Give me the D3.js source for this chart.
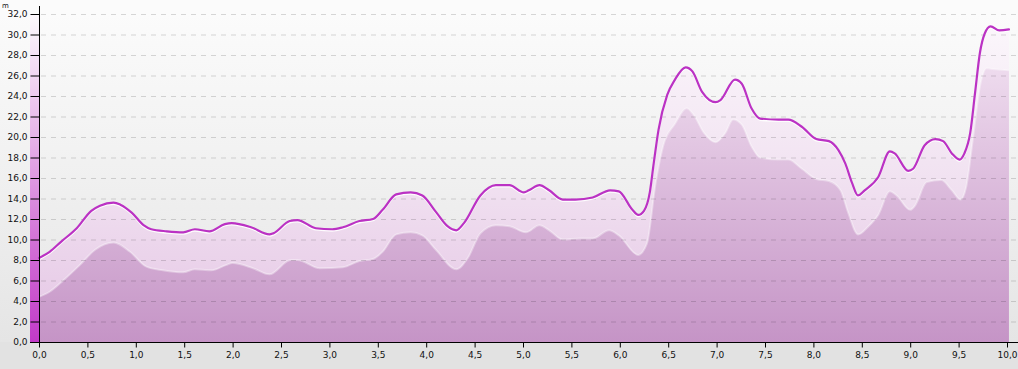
<!DOCTYPE html>
<html>
<head>
<meta charset="utf-8">
<script src="https://cdn.jsdelivr.net/npm/d3@7"></script>
<style>
    html, body { margin: 0; padding: 0; background: #e2e2e2; }
    svg { display: block; }
</style>
</head>
<body>
<svg id="chart"></svg>
<script>
// Elevation profile (distance in km, height in m)
const lineDist = [0.0, 0.11, 0.23, 0.39, 0.54, 0.63, 0.77, 0.84, 0.96, 1.08, 1.16, 1.32, 1.49, 1.61, 1.76, 1.92, 1.99,
    2.19, 2.38, 2.42, 2.59, 2.67, 2.86, 3.03, 3.14, 3.31, 3.45, 3.55, 3.69, 3.84, 3.96, 4.10, 4.22, 4.31, 4.39,
    4.56, 4.72, 4.86, 5.01, 5.06, 5.17, 5.27, 5.41, 5.54, 5.72, 5.90, 5.99, 6.13, 6.19, 6.25, 6.31, 6.35, 6.40,
    6.49, 6.57, 6.68, 6.75, 6.85, 6.99, 7.04, 7.19, 7.26, 7.36, 7.45, 7.64, 7.74, 7.88, 8.03, 8.16, 8.26, 8.33,
    8.40, 8.46, 8.53, 8.67, 8.79, 8.84, 8.98, 9.03, 9.15, 9.26, 9.34, 9.43, 9.51, 9.56, 9.62, 9.67, 9.72, 9.77,
    9.83, 9.92, 10.02];
const lineVal = [8.2, 8.8, 9.8, 11.1, 12.8, 13.3, 13.6, 13.4, 12.6, 11.4, 11.0, 10.8, 10.7, 11.0, 10.8, 11.5, 11.6,
    11.2, 10.5, 10.6, 11.8, 11.9, 11.1, 11.0, 11.2, 11.8, 12.0, 12.9, 14.4, 14.6, 14.3, 12.7, 11.3, 10.9, 11.6,
    14.3, 15.3, 15.3, 14.6, 14.8, 15.3, 14.8, 13.9, 13.9, 14.1, 14.8, 14.7, 12.9, 12.4, 12.8, 14.6, 17.4, 20.7,
    24.1, 25.6, 26.8, 26.4, 24.4, 23.4, 23.6, 25.6, 25.2, 22.8, 21.8, 21.7, 21.7, 21.0, 19.8, 19.6, 18.7, 17.4,
    15.5, 14.3, 14.8, 16.1, 18.6, 18.4, 16.7, 16.9, 19.2, 19.8, 19.6, 18.4, 17.8, 18.4, 20.4, 24.3, 28.2, 30.1,
    30.8, 30.4, 30.5];

// Second (lower) profile drawn as the darker area
const lowerDist = [0.0, 0.11, 0.25, 0.42, 0.58, 0.77, 0.94, 1.11, 1.28, 1.49, 1.61, 1.78, 1.93, 2.0, 2.21, 2.38,
    2.6, 2.67, 2.9, 3.14, 3.31, 3.45, 3.55, 3.69, 3.84, 3.96, 4.10, 4.31, 4.43, 4.56, 4.72, 4.86, 5.03, 5.17,
    5.27, 5.41, 5.58, 5.72, 5.89, 5.99, 6.19, 6.28, 6.37, 6.45, 6.57, 6.69, 6.76, 6.87, 6.99, 7.09, 7.17, 7.26,
    7.36, 7.45, 7.64, 7.74, 7.88, 8.03, 8.16, 8.28, 8.36, 8.46, 8.57, 8.67, 8.79, 8.86, 9.0, 9.05, 9.17, 9.32,
    9.43, 9.52, 9.58, 9.65, 9.72, 9.79, 9.88, 10.02];
const lowerVal = [4.4, 4.9, 6.0, 7.5, 9.0, 9.7, 8.8, 7.35, 7.0, 6.8, 7.1, 7.0, 7.5, 7.7, 7.2, 6.6,
    8.0, 8.0, 7.2, 7.3, 7.9, 8.1, 8.8, 10.5, 10.7, 10.4, 9.0, 7.1, 8.2, 10.6, 11.4, 11.3, 10.7, 11.4,
    10.9, 10.0, 10.1, 10.1, 10.9, 10.4, 8.5, 9.6, 15.5, 19.2, 21.3, 22.8, 22.2, 20.4, 19.5, 20.4, 21.7, 21.2,
    19.1, 18.0, 17.8, 17.8, 16.9, 15.9, 15.7, 14.8, 12.6, 10.5, 11.3, 12.4, 14.7, 14.3, 12.9, 13.3, 15.6, 15.8,
    14.8, 13.9, 15.2, 20.0, 24.9, 26.7, 26.6, 26.5];

const xTicks = d3.range(0, 10.001, 0.5);
const yTicks = d3.range(0, 32.001, 2);
const yUnit = "m";

const width = 1018;
const height = 369;
const margins = { top: 14, right: 11, bottom: 27, left: 39 };
const cfg = {
    textColor: "#111",
    fontSize: "9px",
    fontFamily: "'DejaVu Sans', Verdana, sans-serif",
    lineColor: "#bb32c4",
    lineWidth: 2.2,
    gridColor: "rgba(0,0,0,0.15)",
};

const xScale = d3.scaleLinear([0, 10], [margins.left, width - margins.right]);
const yScale = d3.scaleLinear([0, 32], [height - margins.bottom, margins.top]);
const fmt = d => d.toFixed(1).replace(".", ",");

const upper = lineDist.map((d, i) => ({ x: d, y: lineVal[i] }));
const lower = lowerDist.map((d, i) => ({ x: d, y: lowerVal[i] }));

const svg = d3.select("#chart")
    .attr("width", width)
    .attr("height", height)
    .attr("viewBox", [0, 0, width, height]);

const defs = svg.append("defs");
function vGrad(id, stops) { // vertical gradient in page coordinates
    const g = defs.append("linearGradient")
        .attr("id", id)
        .attr("gradientUnits", "userSpaceOnUse")
        .attr("x1", 0).attr("x2", 0)
        .attr("y1", yScale(32)).attr("y2", yScale(0));
    stops.forEach(([o, c]) => g.append("stop").attr("offset", o).attr("stop-color", c));
}
vGrad("bgGrad", [[0, "#fbfbfb"], [1, "#e5e5e5"]]);
vGrad("upperGrad", [[0, "#fcf8fc"], [0.5, "#f1e2f1"], [1, "#e4c4e4"]]);
vGrad("lowerGrad", [[0, "#f6eaf6"], [0.4, "#e2c6e2"], [1, "#c594c6"]]);
vGrad("barGrad", [[0, "#fdf9fd"], [0.35, "#e8b8ea"], [0.7, "#d270d6"], [1, "#c23ac8"]]);

// background
svg.append("rect")
    .attr("width", width).attr("height", height)
    .attr("fill", "url(#bgGrad)");
svg.append("rect")
    .attr("y", yScale(0)).attr("width", width).attr("height", margins.bottom)
    .attr("fill", "#e2e2e2");

// colour bar next to the y axis
svg.append("rect")
    .attr("x", margins.left - 9).attr("y", yScale(32))
    .attr("width", 9).attr("height", yScale(0) - yScale(32))
    .attr("fill", "url(#barGrad)");

const curve = d3.curveMonotoneX;
const area = d3.area()
    .curve(curve)
    .x(d => xScale(d.x))
    .y0(yScale(0))
    .y1(d => yScale(d.y));
const line = d3.line()
    .curve(curve)
    .x(d => xScale(d.x))
    .y(d => yScale(d.y));

svg.append("path")
    .attr("d", area(upper))
    .attr("fill", "url(#upperGrad)");
svg.append("path")
    .attr("d", area(lower))
    .attr("fill", "url(#lowerGrad)");
svg.append("path") // soft light edge on the lower area
    .attr("d", line(lower))
    .attr("fill", "none")
    .attr("stroke", "#fff")
    .attr("stroke-opacity", 0.35)
    .attr("stroke-width", 2);

// dashed grid
svg.append("g")
    .selectAll("line")
    .data(yTicks.filter(d => d > 0))
    .join("line")
        .attr("x1", margins.left + 2)
        .attr("x2", width)
        .attr("y1", d => yScale(d) + 0.5)
        .attr("y2", d => yScale(d) + 0.5)
        .attr("stroke", cfg.gridColor)
        .attr("stroke-dasharray", "5,5");

// profile line with a white glint beneath it
svg.append("path")
    .attr("d", line(upper))
    .attr("transform", "translate(0,1.6)")
    .attr("fill", "none")
    .attr("stroke", "#fff")
    .attr("stroke-opacity", 0.9)
    .attr("stroke-width", 1.6);
svg.append("path")
    .attr("d", line(upper))
    .attr("fill", "none")
    .attr("stroke", cfg.lineColor)
    .attr("stroke-width", cfg.lineWidth)
    .attr("stroke-linejoin", "round")
    .attr("stroke-linecap", "round");

// axes
const xAxis = d3.axisBottom(xScale)
    .tickValues(xTicks)
    .tickFormat(fmt)
    .tickSizeInner(5)
    .tickSizeOuter(0)
    .tickPadding(4);
const yAxis = d3.axisLeft(yScale)
    .tickValues(yTicks)
    .tickFormat(fmt)
    .tickSizeInner(9)
    .tickSizeOuter(0)
    .tickPadding(3);

svg.append("g")
    .attr("transform", `translate(0,${yScale(0) + 0.5})`)
    .call(xAxis)
    .call(g => g.select(".domain").attr("d", `M${margins.left - 9},0H${width}`).attr("stroke", "#000"))
    .call(g => g.selectAll(".tick line").attr("stroke", "#000"))
    .selectAll("text")
        .attr("fill", cfg.textColor)
        .style("font-size", cfg.fontSize)
        .style("font-family", cfg.fontFamily);

svg.append("g")
    .attr("transform", `translate(${margins.left + 0.5},0)`)
    .call(yAxis)
    .call(g => g.select(".domain").attr("d", `M0,${yScale(0)}V6`).attr("stroke", "#000"))
    .call(g => g.selectAll(".tick line").attr("stroke", "#000"))
    .selectAll("text")
        .attr("fill", cfg.textColor)
        .style("font-size", cfg.fontSize)
        .style("font-family", cfg.fontFamily);

svg.append("text")
    .attr("x", 2).attr("y", 8)
    .attr("fill", cfg.textColor)
    .style("font-size", "7px")
    .style("font-family", cfg.fontFamily)
    .text(yUnit);
</script>
</body>
</html>
